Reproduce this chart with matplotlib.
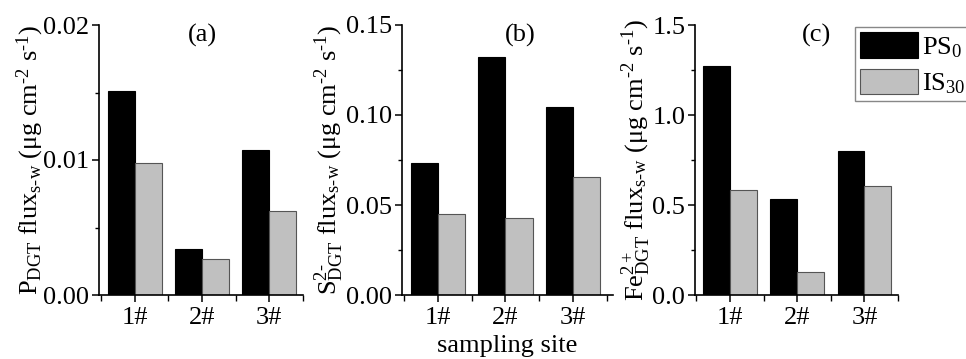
import matplotlib
matplotlib.use("Agg")
import matplotlib.pyplot as plt
from matplotlib.ticker import MultipleLocator, FormatStrFormatter, FixedLocator
from matplotlib.patches import Patch

plt.rcParams['font.family'] = ['Liberation Serif', 'DejaVu Serif']
plt.rcParams['mathtext.fontset'] = 'custom'
plt.rcParams['mathtext.rm'] = 'Liberation Serif'
plt.rcParams['mathtext.it'] = 'Liberation Serif:italic'
plt.rcParams['mathtext.bf'] = 'Liberation Serif:bold'

sites = ["1#", "2#", "3#"]
series_names = [r"PS$_\mathrm{0}$", r"IS$_\mathrm{30}$"]
p_ps0 = [0.0151, 0.00343, 0.01074]
p_is30 = [0.00975, 0.00267, 0.00622]
s_ps0 = [0.0732, 0.132, 0.1046]
s_is30 = [0.0448, 0.0428, 0.0654]
fe_ps0 = [1.274, 0.535, 0.80]
fe_is30 = [0.583, 0.13, 0.606]
panel_tags = ["(a)", "(b)", "(c)"]
unit = r" ($\mathrm{\mu}$g cm$^{\mathrm{\text{-}2}}$ s$^{\mathrm{\text{-}1}}$)"
ylabels = [
    r"P$_\mathrm{DGT}$ flux$_\mathrm{s\text{-}w}$" + unit,
    r"S$^{\mathrm{2\text{-}}}_\mathrm{DGT}$ flux$_\mathrm{s\text{-}w}$" + unit,
    r"Fe$^{\mathrm{2+}}_\mathrm{DGT}$ flux$_\mathrm{s\text{-}w}$" + unit,
]
ymax = [0.02, 0.15, 1.5]
ymajor = [0.01, 0.05, 0.5]
yfmt = ['%.2f', '%.2f', '%.1f']

FS = 19
W, H = 966, 359
fig = plt.figure(figsize=(W / 100, H / 100), dpi=100)

# axes boxes in pixels: left, right, top, bottom
boxes = [(99, 303, 25, 295), (402, 613, 25, 295), (695, 898, 25, 295)]
xlims = [(0.47, 3.5), (0.47, 3.59), (0.48, 3.5)]
tag_x = [0.505, 0.56, 0.60]
lab_x = [-0.335, -0.345, -0.29]
data = [(p_ps0, p_is30), (s_ps0, s_is30), (fe_ps0, fe_is30)]

black = '#000000'
grey = '#c0c0c0'
bw = 0.4
xs = [1, 2, 3]

for i in range(3):
    l, r, t, b = boxes[i]
    ax = fig.add_axes([l / W, 1 - b / H, (r - l) / W, (b - t) / H])
    ps, iss = data[i]
    ax.bar([x - bw / 2 for x in xs], ps, width=bw, color=black, edgecolor='black', linewidth=0.8, zorder=2)
    ax.bar([x + bw / 2 for x in xs], iss, width=bw, color=grey, edgecolor='#555555', linewidth=0.8, zorder=2)
    ax.set_xlim(*xlims[i])
    ax.set_ylim(0, ymax[i])
    for s in ['top', 'right']:
        ax.spines[s].set_visible(False)
    for s in ['left', 'bottom']:
        ax.spines[s].set_linewidth(1.2)
    ax.set_xticks(xs)
    ax.set_xticklabels(sites)
    ax.xaxis.set_minor_locator(FixedLocator([0.5, 1.5, 2.5, 3.5]))
    ax.yaxis.set_major_locator(MultipleLocator(ymajor[i]))
    ax.yaxis.set_minor_locator(MultipleLocator(ymajor[i] / 2))
    ax.yaxis.set_major_formatter(FormatStrFormatter(yfmt[i]))
    ax.tick_params(axis='both', which='major', direction='out', length=5, width=1.1, labelsize=FS, pad=2)
    ax.tick_params(axis='x', which='major', pad=4)
    ax.tick_params(axis='both', which='minor', direction='out', length=3, width=1.0)
    ax.tick_params(axis='x', which='minor', length=4)
    ax.set_ylabel(ylabels[i], fontsize=FS)
    ax.yaxis.set_label_coords(lab_x[i], 0.5)
    ax.yaxis.label.set_va('center')
    ax.text(tag_x[i], 0.963, panel_tags[i], transform=ax.transAxes, ha='center', va='center', fontsize=FS)
    if i == 1:
        ax.set_xlabel("sampling site", fontsize=FS, labelpad=4)

handles = [Patch(facecolor=black, edgecolor='black', linewidth=0.8),
           Patch(facecolor=grey, edgecolor='#555555', linewidth=0.8)]
fig.legend(handles, series_names, loc='upper left', bbox_to_anchor=(855 / W, 1 - 27 / H),
           frameon=True, fancybox=False, edgecolor='#888888', framealpha=1,
           fontsize=FS, handlelength=2.2, handleheight=1.1, labelspacing=0.35,
           borderpad=0.2, handletextpad=0.15, borderaxespad=0)

fig.savefig("out.png", dpi=100)
